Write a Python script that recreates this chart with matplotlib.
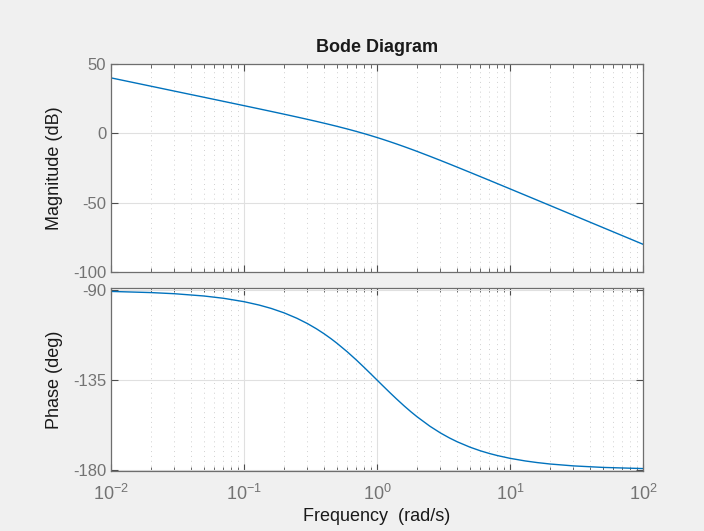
import matplotlib
matplotlib.use("Agg")
import matplotlib.pyplot as plt
from matplotlib.ticker import LogLocator, NullFormatter, FixedLocator

plt.rcParams['font.family'] = ['Liberation Sans', 'DejaVu Sans']
plt.rcParams['axes.unicode_minus'] = False
plt.rcParams['mathtext.fontset'] = 'custom'
plt.rcParams['mathtext.rm'] = 'Liberation Sans'
plt.rcParams['mathtext.default'] = 'regular'

freq = [0.01, 0.02, 0.03, 0.05, 0.07, 0.1, 0.13, 0.16, 0.2, 0.25, 0.3, 0.35, 0.4,
        0.45, 0.5, 0.6, 0.7, 0.8, 0.9, 1.0, 1.1, 1.25, 1.4, 1.6, 1.8, 2.0, 2.5, 3.0,
        3.5, 4.0, 5.0, 6.0, 7.0, 8.0, 10.0, 13.0, 16.0, 20.0, 30.0, 50.0, 100.0]
mag_db = [40.00, 33.98, 30.45, 26.01, 23.08, 19.96, 17.65, 15.81, 13.81, 11.78, 10.08,
          8.62, 7.31, 6.13, 5.05, 3.10, 1.36, -0.21, -1.66, -3.01, -4.27, -6.03, -7.64,
          -9.60, -11.38, -13.01, -16.56, -19.54, -22.10, -24.35, -28.13, -31.25, -33.89,
          -36.19, -40.04, -44.58, -48.18, -52.05, -59.09, -67.96, -80.00]
phase_deg = [-90.57, -91.15, -91.72, -92.86, -94.00, -95.71, -97.41, -99.09, -101.31,
             -104.04, -106.70, -109.29, -111.80, -114.23, -116.57, -120.96, -124.99,
             -128.66, -131.99, -135.00, -137.73, -141.34, -144.46, -148.00, -150.95,
             -153.43, -158.20, -161.57, -164.05, -165.96, -168.69, -170.54, -171.87,
             -172.87, -174.29, -175.60, -176.42, -177.14, -178.09, -178.85, -179.43]

mag_ticks = [-100, -50, 0, 50]
phase_ticks = [-180, -135, -90]

W, H = 704, 531
fig = plt.figure(figsize=(W / 100, H / 100), dpi=100, facecolor='#f0f0f0')

def ax_rect(l, t, r, b):
    return [l / W, 1 - b / H, (r - l) / W, (b - t) / H]

ax1 = fig.add_axes(ax_rect(111, 64, 643, 272))
ax2 = fig.add_axes(ax_rect(111, 288, 643, 471))

line_color = '#0072BD'
ax1.plot(freq, mag_db, color=line_color, lw=1.0)
ax2.plot(freq, phase_deg, color=line_color, lw=1.0)

tick_col = '#737373'
for ax in (ax1, ax2):
    ax.set_xscale('log')
    ax.set_xlim(0.01, 100)
    ax.set_facecolor('white')
    ax.xaxis.set_major_locator(LogLocator(base=10, numticks=10))
    ax.xaxis.set_minor_locator(LogLocator(base=10, subs=[2, 3, 4, 5, 6, 7, 8, 9], numticks=20))
    ax.xaxis.set_minor_formatter(NullFormatter())
    ax.grid(True, which='major', color='#e0e0e0', lw=0.8, ls='-')
    ax.grid(True, which='minor', axis='x', color='#d0d0d0', lw=0.7, ls=(0, (1, 4)))
    ax.set_axisbelow(True)
    ax.tick_params(which='both', direction='in', top=True, right=True,
                   colors='#4d4d4d', labelcolor=tick_col, labelsize=12)
    ax.tick_params(which='major', length=5, width=0.8)
    ax.tick_params(which='minor', length=3, width=0.6)
    for s in ax.spines.values():
        s.set_color('#6e6e6e')
        s.set_linewidth(0.9)

ax1.set_ylim(-100, 50)
ax1.yaxis.set_major_locator(FixedLocator(mag_ticks))
ax1.tick_params(labelbottom=False)
ax1.set_ylabel('Magnitude (dB)', fontsize=13, color='#1a1a1a', labelpad=7)
ax1.set_title('Bode Diagram', fontsize=13, fontweight='bold', color='#1a1a1a', pad=9)

ax2.set_ylim(-180.65, -88.85)
ax2.yaxis.set_major_locator(FixedLocator(phase_ticks))
ax2.set_ylabel('Phase (deg)', fontsize=13, color='#1a1a1a', labelpad=7)
ax2.set_xlabel('Frequency  (rad/s)', fontsize=13, color='#1a1a1a', labelpad=3)
ax2.tick_params(axis='x', labelsize=13, pad=9)

fig.savefig('out.png', dpi=100, facecolor=fig.get_facecolor())
